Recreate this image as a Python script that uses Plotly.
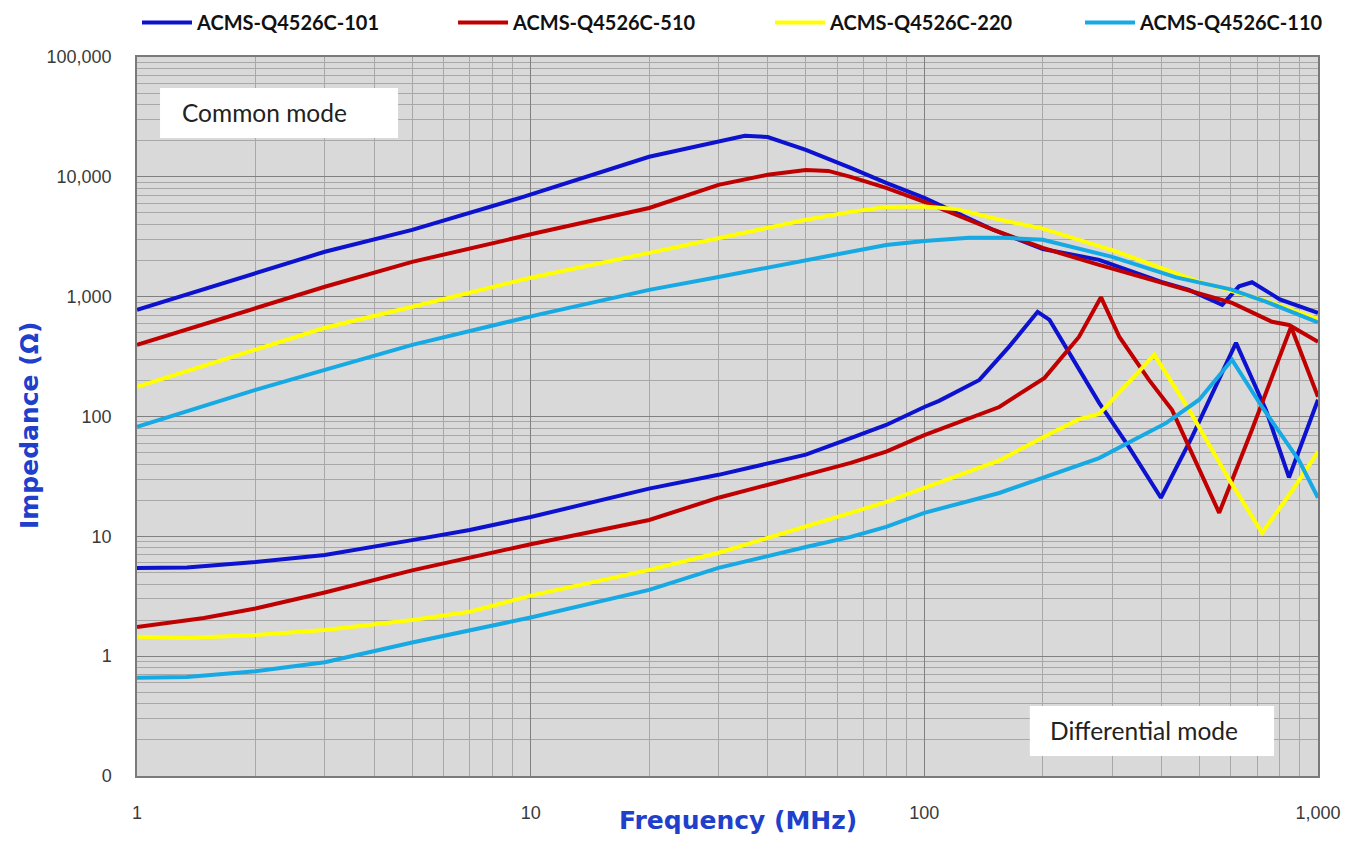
import plotly.graph_objects as go

# ---------------- data ----------------
series_names = ["ACMS-Q4526C-101", "ACMS-Q4526C-510", "ACMS-Q4526C-220", "ACMS-Q4526C-110"]
series_colors = ["#0d12cf", "#c00000", "#ffff00", "#17a9e3"]

# Common mode
f_101_cm = [1, 2, 3, 5, 9.4, 20, 30, 35, 40, 50, 65, 80, 100, 150, 200, 278, 400, 470, 571, 630, 680, 800, 1000]
z_101_cm = [776, 1580, 2370, 3610, 6680, 14700, 19600, 22000, 21500, 16800, 11900, 8900, 6680, 3600, 2500, 2030, 1330, 1140, 855, 1220, 1320, 950, 733]

f_510_cm = [1, 2, 3, 5, 10.4, 20, 30, 40, 50, 57, 65, 80, 100, 150, 200, 278, 444, 605, 764, 844, 1000]
z_510_cm = [396, 806, 1210, 1950, 3410, 5500, 8570, 10400, 11400, 11200, 10000, 8090, 6180, 3600, 2550, 1840, 1180, 887, 617, 580, 420]

f_220_cm = [1, 2, 3, 5, 10, 20, 30, 40, 50, 65, 80, 100, 120, 155, 200, 300, 500, 740, 1000]
z_220_cm = [177, 360, 550, 823, 1440, 2320, 3100, 3750, 4380, 5100, 5600, 5650, 5400, 4400, 3700, 2450, 1330, 920, 650]

f_110_cm = [1, 2, 3, 5, 10.4, 20, 30, 50, 80, 100, 130, 160, 200, 300, 436, 600, 740, 1000]
z_110_cm = [82, 167, 245, 396, 705, 1140, 1460, 2030, 2700, 2920, 3100, 3100, 2980, 2150, 1450, 1150, 905, 610]

# Differential mode
f_101_dm = [1, 1.34, 2, 3, 5, 7, 10, 20, 30, 50, 65, 80, 100, 109, 138, 164, 194, 208, 278, 326, 399, 479, 619, 738, 844, 1000]
z_101_dm = [5.45, 5.5, 6.1, 7.0, 9.3, 11.3, 14.5, 25, 32.6, 48, 66, 85, 120, 135, 202, 381, 747, 640, 130, 60, 21, 68, 411, 113, 31, 138]

f_510_dm = [1, 1.48, 2, 3, 5, 7, 10, 20, 30, 50, 65, 80, 100, 155, 202, 247, 281, 313, 372, 426, 561, 680, 854, 1000]
z_510_dm = [1.75, 2.08, 2.5, 3.4, 5.2, 6.6, 8.6, 13.7, 21, 32.6, 41, 51, 70, 120, 210, 461, 990, 461, 202, 113, 15.7, 78, 560, 146]

f_220_dm = [1, 1.34, 2, 3, 5, 7, 10, 20, 30, 50, 65, 80, 100, 155, 202, 247, 278, 384, 471, 594, 721, 859, 1000]
z_220_dm = [1.45, 1.42, 1.5, 1.65, 2.0, 2.35, 3.2, 5.25, 7.3, 12, 15.7, 19.4, 25.3, 43, 68, 95, 105, 327, 113, 30, 10.7, 24, 51]

f_110_dm = [1, 1.34, 2, 3, 5, 7, 10, 20, 30, 50, 65, 80, 100, 155, 202, 278, 341, 411, 499, 605, 721, 895, 1000]
z_110_dm = [0.66, 0.67, 0.75, 0.89, 1.3, 1.65, 2.1, 3.57, 5.45, 8.15, 9.9, 12, 15.7, 23, 31, 45, 64, 88, 138, 297, 120, 43, 21]

x_tickvals = [1, 10, 100, 1000]
x_ticktext = ["1", "10", "100", "1,000"]
y_tickvals = [0.1, 1, 10, 100, 1000, 10000, 100000]
y_ticktext = ["0", "1", "10", "100", "1,000", "10,000", "100,000"]
x_minor = [m * d for d in [1, 10, 100] for m in range(2, 10)]
y_minor = [m * d for d in [0.1, 1, 10, 100, 1000, 10000] for m in range(2, 10)]

cm_data = [(f_101_cm, z_101_cm), (f_510_cm, z_510_cm), (f_220_cm, z_220_cm), (f_110_cm, z_110_cm)]
dm_data = [(f_101_dm, z_101_dm), (f_510_dm, z_510_dm), (f_220_dm, z_220_dm), (f_110_dm, z_110_dm)]

legend_ids = ["legend", "legend2", "legend3", "legend4"]
legend_x = [0.0, 0.2676, 0.5360, 0.7985]

# ---------------- figure ----------------
fig = go.Figure()
for i, name in enumerate(series_names):
    for j, (fx, zy) in enumerate([cm_data[i], dm_data[i]]):
        fig.add_trace(go.Scatter(
            x=fx, y=zy, mode="lines", name=name,
            legendgroup=name, showlegend=(j == 0), legend=legend_ids[i],
            line=dict(color=series_colors[i], width=4),
        ))

grid_major = "#808080"
grid_minor = "#a8a8a8"
tick_font = dict(family="Liberation Sans, Arial, sans-serif", size=18, color="#3a3a3a")

fig.update_xaxes(
    type="log", range=[0, 3],
    tickmode="array", tickvals=x_tickvals, ticktext=x_ticktext,
    showgrid=True, gridcolor=grid_major, gridwidth=1,
    minor=dict(tickmode="array", tickvals=x_minor, showgrid=True, gridcolor=grid_minor, gridwidth=1, ticks=""),
    showline=True, linecolor="#7a7a7a", linewidth=1.5, mirror=True,
    ticks="", tickfont=tick_font, ticklabelstandoff=20, zeroline=False,
)
fig.update_yaxes(
    type="log", range=[-1, 5],
    tickmode="array", tickvals=y_tickvals, ticktext=y_ticktext,
    showgrid=True, gridcolor=grid_major, gridwidth=1,
    minor=dict(tickmode="array", tickvals=y_minor, showgrid=True, gridcolor=grid_minor, gridwidth=1, ticks=""),
    showline=True, linecolor="#7a7a7a", linewidth=1.5, mirror=True,
    ticks="", tickfont=tick_font, ticklabelstandoff=20, zeroline=False,
)

title_font = dict(family="DejaVu Sans, sans-serif", size=25, color="#2040cc")
box_font = dict(family="Lato, Carlito, sans-serif", size=24.5, color="#222222")
legend_font = dict(family="Lato, Carlito, sans-serif", size=20, color="#111111", weight="bold")

legend_layout = {}
for lid, lx in zip(legend_ids, legend_x):
    legend_layout[lid] = dict(
        orientation="h", x=lx, xanchor="left", y=1.0751, yanchor="top",
        itemwidth=50, font=legend_font, bgcolor="rgba(0,0,0,0)",
    )

fig.update_layout(
    width=1350, height=828,
    margin=dict(l=129, r=40, t=49, b=60, autoexpand=False),
    paper_bgcolor="white", plot_bgcolor="#d9d9d9",
    showlegend=True,
    **legend_layout,
    shapes=[
        dict(type="rect", xref="paper", yref="paper", x0=0.0195, x1=0.221, y0=0.8873, y1=0.9569,
             fillcolor="white", line=dict(width=0), layer="above"),
        dict(type="rect", xref="paper", yref="paper", x0=0.756, x1=0.9628, y0=0.0278, y1=0.0974,
             fillcolor="white", line=dict(width=0), layer="above"),
    ],
    annotations=[
        dict(text="Common mode", xref="paper", yref="paper", x=0.0364, y=0.9235,
             xanchor="left", yanchor="middle", showarrow=False, font=box_font),
        dict(text="Differential mode", xref="paper", yref="paper", x=0.7714, y=0.0626,
             xanchor="left", yanchor="middle", showarrow=False, font=box_font),
        dict(text="<b>Frequency (MHz)</b>", xref="paper", yref="paper", x=0.509, y=-0.062,
             xanchor="center", yanchor="middle", showarrow=False, font=title_font),
        dict(text="<b>Impedance (Ω)</b>", xref="paper", yref="paper", x=-0.0906, y=0.4868,
             xanchor="center", yanchor="middle", showarrow=False, textangle=-90, font=title_font),
    ],
)

fig.write_html("out.html")
